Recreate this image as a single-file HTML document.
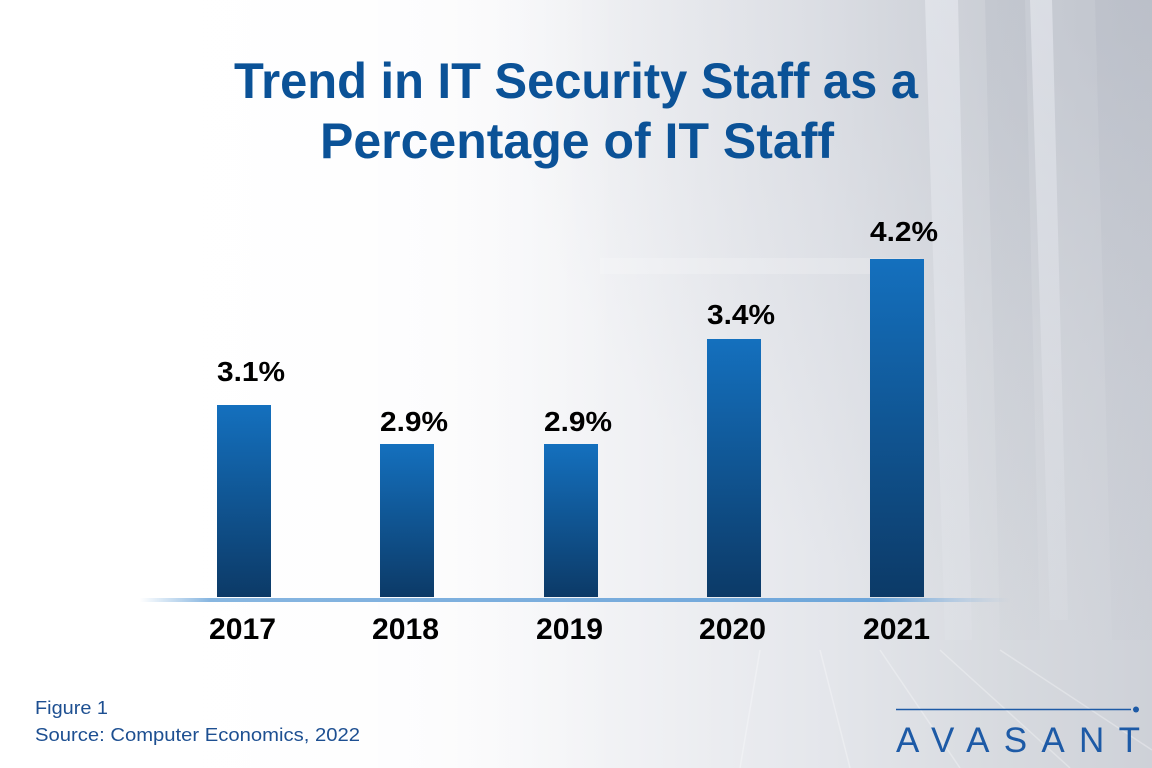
<!DOCTYPE html>
<html><head><meta charset="utf-8"><style>
html,body{margin:0;padding:0;width:1152px;height:768px;overflow:hidden;background:#fff}
svg{display:block}
</style></head><body>
<svg width="1152" height="768" viewBox="0 0 1152 768" xmlns="http://www.w3.org/2000/svg">
<defs>
<linearGradient id="bgH" x1="0" y1="0" x2="1" y2="0">
<stop offset="0" stop-color="#ffffff"/>
<stop offset="0.35" stop-color="#fbfbfc"/>
<stop offset="0.55" stop-color="#f0f1f4"/>
<stop offset="0.72" stop-color="#e4e6eb"/>
<stop offset="0.87" stop-color="#d7dadf"/>
<stop offset="1" stop-color="#ced1d8"/>
</linearGradient>
<radialGradient id="trShade" gradientUnits="userSpaceOnUse" cx="1152" cy="0" r="650">
<stop offset="0" stop-color="#b3b8c3" stop-opacity="0.55"/>
<stop offset="0.6" stop-color="#c0c4cd" stop-opacity="0.2"/>
<stop offset="1" stop-color="#c0c4cd" stop-opacity="0"/>
</radialGradient>
<linearGradient id="leftFade" x1="0" y1="0" x2="1" y2="0">
<stop offset="0" stop-color="#ffffff" stop-opacity="1"/>
<stop offset="0.5" stop-color="#ffffff" stop-opacity="0.8"/>
<stop offset="1" stop-color="#ffffff" stop-opacity="0"/>
</linearGradient>
<linearGradient id="bar" x1="0" y1="0" x2="0" y2="1">
<stop offset="0" stop-color="#1470be"/>
<stop offset="1" stop-color="#0c3a67"/>
</linearGradient>
<linearGradient id="axis" x1="0" y1="0" x2="1" y2="0">
<stop offset="0" stop-color="#7aaedd" stop-opacity="0"/>
<stop offset="0.08" stop-color="#7aaedd" stop-opacity="0.9"/>
<stop offset="0.85" stop-color="#6ea6da" stop-opacity="1"/>
<stop offset="1" stop-color="#8fb8e0" stop-opacity="0"/>
</linearGradient>
<linearGradient id="rackLight" x1="0" y1="0" x2="0" y2="1">
<stop offset="0" stop-color="#eef0f6" stop-opacity="0.5"/>
<stop offset="1" stop-color="#eef0f6" stop-opacity="0.1"/>
</linearGradient>
<linearGradient id="rackDark" x1="0" y1="0" x2="0" y2="1">
<stop offset="0" stop-color="#aeb3be" stop-opacity="0.25"/>
<stop offset="1" stop-color="#aeb3be" stop-opacity="0.05"/>
</linearGradient>
</defs>

<!-- background -->
<rect width="1152" height="768" fill="url(#bgH)"/>
<rect width="1152" height="768" fill="url(#trShade)"/>
<!-- rack stripes -->
<polygon points="925,0 958,0 972,640 945,640" fill="url(#rackLight)"/>
<polygon points="1030,0 1052,0 1068,620 1050,620" fill="url(#rackLight)"/>
<polygon points="985,0 1025,0 1040,640 1000,640" fill="url(#rackDark)"/>
<polygon points="1095,0 1152,0 1152,640 1112,640" fill="url(#rackDark)"/>
<rect x="600" y="258" width="320" height="16" fill="#ffffff" opacity="0.2"/>
<!-- floor lines -->
<g stroke="#ffffff" stroke-opacity="0.3" stroke-width="1.5">
<line x1="760" y1="650" x2="740" y2="768"/>
<line x1="820" y1="650" x2="850" y2="768"/>
<line x1="880" y1="650" x2="960" y2="768"/>
<line x1="940" y1="650" x2="1070" y2="768"/>
<line x1="1000" y1="650" x2="1152" y2="750"/>
</g>
<rect width="620" height="768" fill="url(#leftFade)"/>

<!-- title -->
<g font-family="Liberation Sans, sans-serif" font-weight="bold" font-size="50" fill="#0b5297">
<text x="234" y="98" textLength="684" lengthAdjust="spacingAndGlyphs">Trend in IT Security Staff as a</text>
<text x="320" y="158" textLength="514" lengthAdjust="spacingAndGlyphs">Percentage of IT Staff</text>
</g>

<!-- axis line -->
<rect x="140" y="598" width="870" height="4" fill="url(#axis)"/>

<!-- bars -->
<rect x="217" y="405" width="54" height="192" fill="url(#bar)"/>
<rect x="380" y="444" width="54" height="153" fill="url(#bar)"/>
<rect x="544" y="444" width="54" height="153" fill="url(#bar)"/>
<rect x="707" y="339" width="54" height="258" fill="url(#bar)"/>
<rect x="870" y="259" width="54" height="338" fill="url(#bar)"/>

<!-- value labels -->
<g font-family="Liberation Sans, sans-serif" font-weight="bold" font-size="28" fill="#000">
<text x="217" y="381" textLength="68" lengthAdjust="spacingAndGlyphs">3.1%</text>
<text x="380" y="431" textLength="68" lengthAdjust="spacingAndGlyphs">2.9%</text>
<text x="544" y="431" textLength="68" lengthAdjust="spacingAndGlyphs">2.9%</text>
<text x="707" y="324" textLength="68" lengthAdjust="spacingAndGlyphs">3.4%</text>
<text x="870" y="241" textLength="68" lengthAdjust="spacingAndGlyphs">4.2%</text>
</g>

<!-- year labels -->
<g font-family="Liberation Sans, sans-serif" font-weight="bold" font-size="30" fill="#000">
<text x="209" y="639" textLength="67" lengthAdjust="spacingAndGlyphs">2017</text>
<text x="372" y="639" textLength="67" lengthAdjust="spacingAndGlyphs">2018</text>
<text x="536" y="639" textLength="67" lengthAdjust="spacingAndGlyphs">2019</text>
<text x="699" y="639" textLength="67" lengthAdjust="spacingAndGlyphs">2020</text>
<text x="863" y="639" textLength="67" lengthAdjust="spacingAndGlyphs">2021</text>
</g>

<!-- footer -->
<g font-family="Liberation Sans, sans-serif" font-size="18" fill="#1d4f91">
<text x="35" y="714" textLength="73" lengthAdjust="spacingAndGlyphs">Figure 1</text>
<text x="35" y="741" textLength="325" lengthAdjust="spacingAndGlyphs">Source: Computer Economics, 2022</text>
</g>

<!-- logo -->
<line x1="896" y1="709.5" x2="1131" y2="709.5" stroke="#1d5aa6" stroke-width="1.6"/>
<circle cx="1136" cy="709.5" r="3" fill="#1d5aa6"/>
<text x="896" y="752" font-family="Liberation Sans, sans-serif" font-size="35" fill="#1d5aa6" textLength="244" lengthAdjust="spacing">AVASANT</text>
</svg>
</body></html>
